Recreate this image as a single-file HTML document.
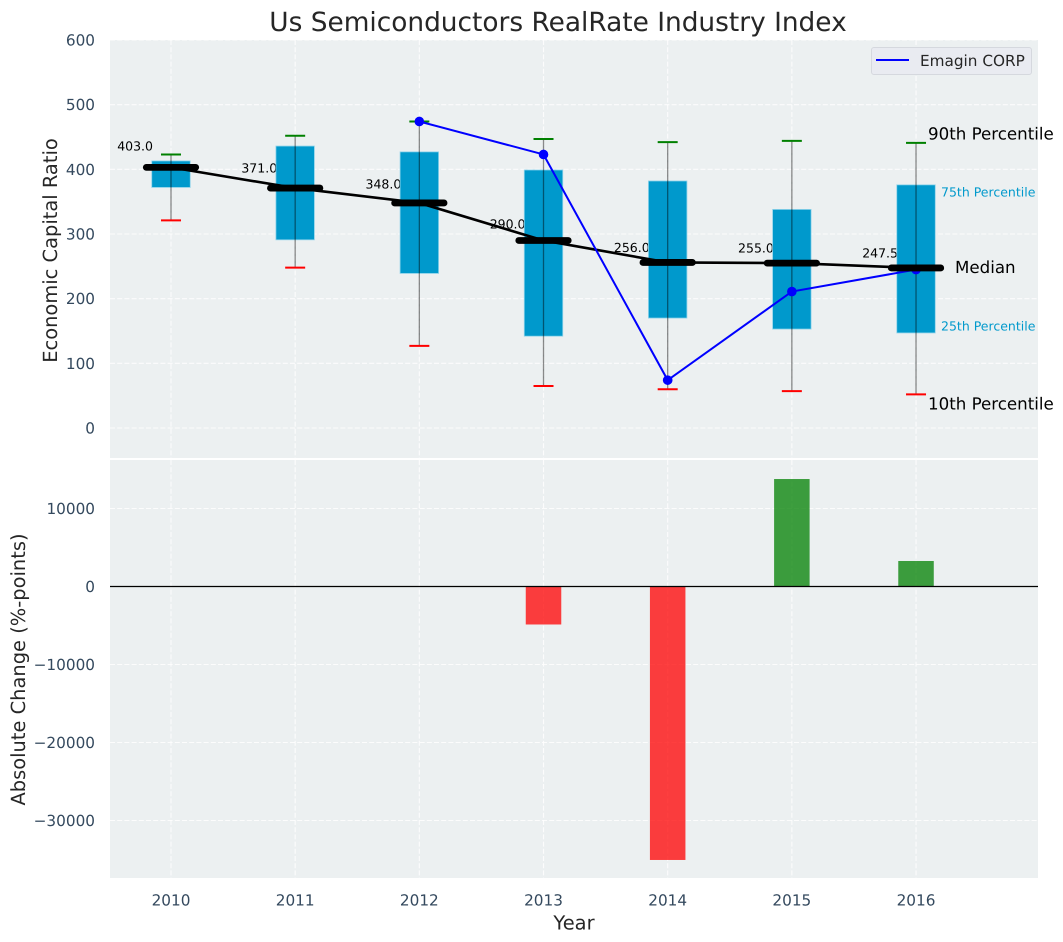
<!DOCTYPE html>
<html lang="en">
<head>
<meta charset="utf-8">
<title>Us Semiconductors RealRate Industry Index</title>
<style>
html,body{margin:0;padding:0;background:#fff;}
svg{display:block;}
text{font-family:"DejaVu Sans","Liberation Sans",sans-serif;text-rendering:geometricPrecision;}
.tick{font-size:15.28px;fill:#34495e;}
.axt{font-size:19.44px;fill:#262626;}
</style>
</head>
<body>
<svg id="chart" xmlns="http://www.w3.org/2000/svg" width="1063" height="942" viewBox="0 0 1063 942">
<rect x="0" y="0" width="1063" height="942" fill="#ffffff"/>
<rect x="110" y="40" width="928" height="418" fill="#ecf0f1"/>
<rect x="110" y="460" width="928" height="418" fill="#ecf0f1"/>
<text x="558" y="31" text-anchor="middle" font-size="26.39" fill="#262626">Us Semiconductors RealRate Industry Index</text>
<text class="axt" transform="translate(57 250.5) rotate(-90)" text-anchor="middle">Economic Capital Ratio</text>
<text class="axt" transform="translate(25 669.5) rotate(-90)" text-anchor="middle">Absolute Change (%-points)</text>
<text class="axt" x="574" y="929.5" text-anchor="middle">Year</text>
<g id="layer"></g>
<g>
<rect x="871.5" y="47.5" width="160" height="27" rx="2.5" fill="#e9ebf1" stroke="#d5d8de" stroke-width="1"/>
<line x1="876" y1="60" x2="909" y2="60" stroke="#0000ff" stroke-width="2"/>
<text x="920" y="66" font-size="15.28" fill="#262626">Emagin CORP</text>
</g>
</svg>
<script>
const years = [2010, 2011, 2012, 2013, 2014, 2015, 2016];
const p90 = [423, 452, 474, 447, 442, 444, 441];
const p75 = [413, 436, 427, 399, 382, 338, 376];
const medians = [403, 371, 348, 290, 256, 255, 247.5];
const p25 = [372, 291, 239, 142, 170, 153, 147];
const p10 = [321, 248, 127, 65, 60, 57, 52];
const emagin = [null, null, 474, 423, 74, 211, 245];
const changes = [null, null, null, -4870, -35060, 13780, 3270];
const topTicks = [0, 100, 200, 300, 400, 500, 600];
const bottomTicks = [-30000, -20000, -10000, 0, 10000];

const NS = 'http://www.w3.org/2000/svg';
const layer = document.getElementById('layer');
function xScale(v) { return 171 + (v - 2010) * 124.17; }
function yTop(v) { return 428 - v * 0.64667; }
function yBottom(v) { return 586.5 - v * 0.0078; }
function make(tag, props) {
  const el = document.createElementNS(NS, tag);
  for (const k in props) el.setAttribute(k, props[k]);
  layer.appendChild(el);
  return el;
}
const GRID = {stroke: '#ffffff', 'stroke-width': 1.1, 'stroke-dasharray': '5 2.2', opacity: 0.85};
const fmtTick = v => (v < 0 ? '\u2212' + Math.abs(v) : String(v));

topTicks.forEach(t => {
  const g = make('line', Object.assign({x1: 110, x2: 1038, y1: yTop(t), y2: yTop(t)}, GRID));
  
  
  const l = make('text', {x: 95, y: yTop(t) + 5.5, 'text-anchor': 'end', class: 'tick'});
  l.textContent = fmtTick(t);
  
  
});
bottomTicks.forEach(t => {
  const g = make('line', Object.assign({x1: 110, x2: 1038, y1: yBottom(t), y2: yBottom(t)}, GRID));
  
  
  const l = make('text', {x: 95, y: yBottom(t) + 5.5, 'text-anchor': 'end', class: 'tick'});
  l.textContent = fmtTick(t);
  
  
});
years.forEach(y => {
  const a = make('line', Object.assign({x1: xScale(y), x2: xScale(y), y1: 40, y2: 458}, GRID));
  
  
  const b = make('line', Object.assign({x1: xScale(y), x2: xScale(y), y1: 460, y2: 878}, GRID));
  
  
  const l = make('text', {x: xScale(y), y: 905.5, 'text-anchor': 'middle', class: 'tick'});
  l.textContent = String(y);
  
  
});

/* median value labels sit beneath the boxes */
years.forEach((y, i) => {
  const t = make('text', {x: xScale(y - 0.145), y: yTop(medians[i] * 1.064), 'text-anchor': 'end', 'font-size': 12.5, fill: '#000000'});
  t.textContent = medians[i].toFixed(1);
  
  
});

/* boxes */
years.forEach((y, i) => {
  const b = make('rect', {x: xScale(y - 0.155), y: yTop(p75[i]), width: xScale(y + 0.155) - xScale(y - 0.155), height: yTop(p25[i]) - yTop(p75[i]), fill: '#0099cc', stroke: '#8fd3ea', 'stroke-width': 0.8});
  
  
});
/* whiskers and caps */
years.forEach((y, i) => {
  const w = make('line', {x1: xScale(y), x2: xScale(y), y1: yTop(p90[i]), y2: yTop(p10[i]), stroke: '#000000', 'stroke-opacity': 0.45, 'stroke-width': 1.3});
  
  
  const hi = make('line', {x1: xScale(y) - 10, x2: xScale(y) + 10, y1: yTop(p90[i]), y2: yTop(p90[i]), stroke: '#008000', 'stroke-width': 2});
  
  
  const lo = make('line', {x1: xScale(y) - 10, x2: xScale(y) + 10, y1: yTop(p10[i]), y2: yTop(p10[i]), stroke: '#ff0000', 'stroke-width': 2});
  
  
});

/* median trend line */
const medianLine = make('polyline', {points: years.map((y, i) => xScale(y) + ',' + yTop(medians[i])).join(' '), fill: 'none', stroke: '#000000', 'stroke-width': 2.6});



/* company series */
const emPts = years.map((y, i) => emagin[i] === null ? null : [xScale(y), yTop(emagin[i])]).filter(Boolean);
const emLine = make('polyline', {points: emPts.map(p => p.join(',')).join(' '), fill: 'none', stroke: '#0000ff', 'stroke-width': 2});


emPts.forEach(p => {
  const c = make('circle', {cx: p[0], cy: p[1], r: 4.8, fill: '#0000ff'});
  
  
});

/* median segments */
years.forEach((y, i) => {
  const m = make('line', {x1: xScale(y) - 24.7, x2: xScale(y) + 24.7, y1: yTop(medians[i]), y2: yTop(medians[i]), stroke: '#000000', 'stroke-width': 6.8, 'stroke-linecap': 'round'});
  
  
});

/* change bars */
years.forEach((y, i) => {
  if (changes[i] === null) return;
  const top = Math.min(yBottom(0), yBottom(changes[i]));
  const h = Math.abs(yBottom(changes[i]) - yBottom(0));
  const b = make('rect', {x: xScale(y - 0.143), y: top, width: xScale(y + 0.143) - xScale(y - 0.143), height: h, fill: changes[i] < 0 ? '#ff0000' : '#008000', 'fill-opacity': 0.75});
  
  
});
const zero = make('line', {x1: 110, x2: 1038, y1: yBottom(0), y2: yBottom(0), stroke: '#000000', 'stroke-width': 1.2});



/* percentile annotations anchored to the last year */
const last = years.length - 1;
const xLast = xScale(years[last]);
const a90 = make('text', {x: xLast + 12, y: yTop(p90[last]) - 3.5, 'font-size': 16.67, fill: '#000000'});
a90.textContent = '90th Percentile';


const a75 = make('text', {x: xLast + 25, y: yTop(p75[last]) + 11.5, 'font-size': 12.5, fill: '#0099cc'});
a75.textContent = '75th Percentile';


const aMed = make('text', {x: xLast + 39, y: yTop(medians[last]) + 5, 'font-size': 16.67, fill: '#000000'});
aMed.textContent = 'Median';


const a25 = make('text', {x: xLast + 25, y: yTop(p25[last]) - 2.5, 'font-size': 12.5, fill: '#0099cc'});
a25.textContent = '25th Percentile';


const a10 = make('text', {x: xLast + 12, y: yTop(p10[last]) + 15, 'font-size': 16.67, fill: '#000000'});
a10.textContent = '10th Percentile';


</script>
</body>
</html>
